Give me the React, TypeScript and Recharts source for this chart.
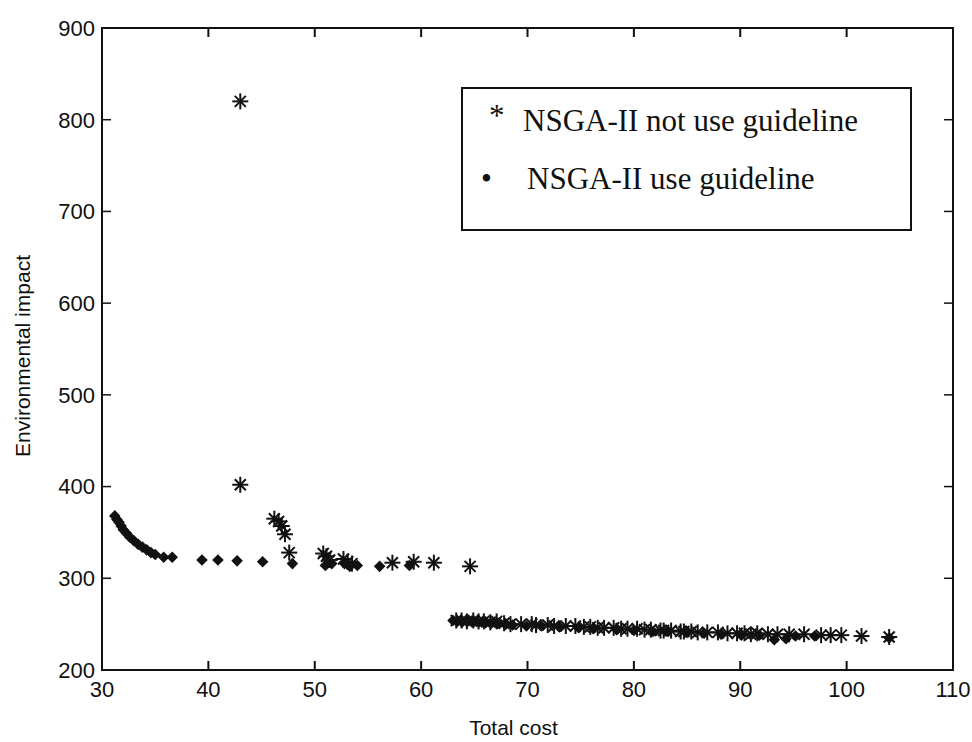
import React from 'react';
import { ScatterChart, Scatter, XAxis, YAxis, ReferenceArea, ReferenceLine } from 'recharts';

// ---- data (Total cost, Environmental impact) ----
const notUseGuideline: [number, number][] = [
  [43.0, 820], [43.0, 402],
  [46.2, 365], [46.6, 362], [46.9, 357], [47.2, 348], [47.6, 328],
  [50.8, 327], [51.1, 324], [51.4, 320], [52.7, 321], [53.1, 318], [53.5, 316],
  [57.3, 317], [59.3, 318], [61.2, 317], [64.6, 313],
  [63.3, 254], [63.8, 254], [64.3, 253], [64.9, 254], [65.4, 253], [65.9, 253],
  [66.5, 252], [67.1, 253], [67.8, 251], [68.4, 250], [69.4, 250], [70.4, 250],
  [70.8, 249], [71.9, 249], [72.5, 248], [73.6, 248], [74.5, 248], [75.3, 247],
  [75.9, 247], [76.6, 246], [77.2, 246], [78.1, 246], [78.8, 245], [79.4, 245],
  [80.3, 245], [81.0, 244], [81.6, 244], [82.5, 243], [82.8, 243], [83.5, 243],
  [84.4, 242], [84.7, 242], [85.4, 242], [86.0, 241], [86.9, 241], [87.9, 241],
  [88.8, 240], [89.7, 240], [90.4, 240], [91.0, 239], [91.6, 240], [92.6, 239],
  [93.5, 239], [94.6, 239], [96.0, 239], [97.6, 238], [98.5, 238], [99.5, 238],
  [101.4, 237], [104.0, 236],
];

const useGuideline: [number, number][] = [
  [31.2, 368], [31.4, 364], [31.6, 361], [31.8, 357], [32.0, 353], [32.3, 349],
  [32.6, 345], [33.0, 341], [33.4, 337], [33.8, 334], [34.2, 331], [34.6, 328],
  [35.0, 326], [35.8, 323], [36.6, 323], [39.4, 320], [40.9, 320], [42.7, 319],
  [45.1, 318], [47.9, 316], [51.0, 314], [51.6, 316], [52.8, 316], [53.3, 313],
  [54.0, 314], [56.1, 313], [58.9, 314],
  [63.0, 254], [63.4, 253], [63.9, 253], [64.3, 254], [64.8, 253], [65.2, 253],
  [65.7, 252], [66.1, 252], [66.6, 251], [67.2, 251], [67.9, 250], [68.6, 249],
  [69.9, 248], [71.3, 248], [73.0, 247], [74.8, 246], [76.2, 245], [78.4, 244],
  [80.0, 243], [81.8, 242], [83.2, 242], [85.0, 241], [86.6, 240], [88.2, 239],
  [90.1, 238], [91.8, 238], [93.2, 233], [94.3, 234], [95.2, 237], [97.0, 237],
  [104.0, 235],
];

const xTicks = [30, 40, 50, 60, 70, 80, 90, 100, 110];
const yTicks = [200, 300, 400, 500, 600, 700, 800, 900];
const seriesNames = ['NSGA-II not use guideline', 'NSGA-II use guideline'];

const X_DOMAIN: [number, number] = [30, 110];
const Y_DOMAIN: [number, number] = [200, 900];
const X_TICK_LEN = 0.85;

const toPoints = (arr: [number, number][]) => arr.map(([x, y]) => ({ x, y }));

const INK = '#111';
const FONT = '"Liberation Sans", Arial, sans-serif';

const Asterisk = (props: any) => {
  const { cx, cy } = props;
  if (cx == null || cy == null) return null;
  return (
    <g stroke={INK} strokeWidth={2}>
      <line x1={cx - 8} y1={cy} x2={cx + 8} y2={cy} />
      <line x1={cx} y1={cy - 8} x2={cx} y2={cy + 8} />
      <line x1={cx - 5.5} y1={cy - 5.5} x2={cx + 5.5} y2={cy + 5.5} />
      <line x1={cx - 5.5} y1={cy + 5.5} x2={cx + 5.5} y2={cy - 5.5} />
    </g>
  );
};

const Diamond = (props: any) => {
  const { cx, cy } = props;
  if (cx == null || cy == null) return null;
  const r = 5.8;
  return <path d={`M${cx},${cy - r}L${cx + r},${cy}L${cx},${cy + r}L${cx - r},${cy}Z`} fill={INK} />;
};

const BottomTick = (props: any) => {
  const { x, y, payload } = props;
  return (
    <text x={x} y={y} dy="0.78em" textAnchor="middle" style={{ fontFamily: FONT, fontSize: 22, fill: INK }}>
      {payload.value}
    </text>
  );
};

const LeftTick = (props: any) => {
  const { x, y, payload } = props;
  return (
    <text x={x} y={y} dy="0.36em" textAnchor="end" style={{ fontFamily: FONT, fontSize: 22, fill: INK }}>
      {payload.value}
    </text>
  );
};

// full-height vertical reference line whose dash pattern leaves only the two inward ends visible
const EdgeTickLine = (props: any) => {
  const { x1, y1, x2, y2 } = props;
  if (x1 == null || y1 == null) return null;
  const top = Math.min(y1, y2);
  const bottom = Math.max(y1, y2);
  return (
    <g>
      <rect x={x1 - 1} y={bottom - 9} width={2} height={9} fill={INK} />
      <rect x={x2 - 1} y={top} width={2} height={9} fill={INK} />
    </g>
  );
};

const LegendBox = () => (
  <div
    style={{
      position: 'absolute',
      left: 461,
      top: 87,
      width: 451,
      height: 144,
      border: '2px solid #111',
      background: '#fff',
      fontFamily: '"Liberation Serif", "Times New Roman", serif',
      fontSize: 31,
      lineHeight: '34px',
      color: INK,
      boxSizing: 'border-box',
    }}
  >
    <div style={{ position: 'absolute', left: 26, top: 15, whiteSpace: 'nowrap' }}>
      <span style={{ display: 'inline-block', width: 34, position: 'relative', top: -5 }}>*</span>
      {seriesNames[0]}
    </div>
    <div style={{ position: 'absolute', left: 18, top: 73, whiteSpace: 'nowrap' }}>
      <span style={{ display: 'inline-block', width: 46 }}>•</span>
      {seriesNames[1]}
    </div>
  </div>
);

const YLabel = (props: any) => {
  const vb = props.viewBox || {};
  const cx = 22;
  const cy = vb.y + vb.height / 2 + 7;
  return (
    <text
      x={cx}
      y={cy}
      transform={`rotate(-90 ${cx} ${cy})`}
      textAnchor="middle"
      dominantBaseline="central"
      style={{ fontFamily: FONT, fontSize: 21, fill: INK }}
    >
      Environmental impact
    </text>
  );
};

const XLabel = (props: any) => {
  const vb = props.viewBox || {};
  const cx = vb.x + vb.width / 2 - 14;
  const cy = vb.y + 57;
  return (
    <text
      x={cx}
      y={cy}
      textAnchor="middle"
      dominantBaseline="central"
      style={{ fontFamily: FONT, fontSize: 21, fill: INK }}
    >
      Total cost
    </text>
  );
};

export default function App() {
  const innerX = xTicks.slice(1, -1);
  const innerY = yTicks.slice(1, -1);
  return (
    <div style={{ position: 'absolute', left: 0, top: 0, width: 972, height: 742, background: '#fff' }}>
      <ScatterChart width={972} height={742} margin={{ top: 28, right: 19, bottom: 2, left: 0 }}>
        <XAxis
          dataKey="x"
          type="number"
          domain={X_DOMAIN}
          ticks={xTicks}
          allowDataOverflow
          height={70}
          tickSize={0}
          tickMargin={10}
          tickLine={false}
          tick={<BottomTick />}
          axisLine={{ stroke: INK, strokeWidth: 2 }}
          label={<XLabel />}
        />
        <YAxis
          dataKey="y"
          type="number"
          domain={Y_DOMAIN}
          ticks={yTicks}
          allowDataOverflow
          width={102}
          tickSize={0}
          tickMargin={7}
          tickLine={false}
          tick={<LeftTick />}
          axisLine={{ stroke: INK, strokeWidth: 2 }}
          label={<YLabel />}
        />
        <ReferenceArea
          x1={X_DOMAIN[0]}
          x2={X_DOMAIN[1]}
          y1={Y_DOMAIN[0]}
          y2={Y_DOMAIN[1]}
          fill="none"
          fillOpacity={0}
          stroke={INK}
          strokeWidth={2}
          ifOverflow="visible"
        />
        {innerX.map((t) => (
          <ReferenceLine key={`xv${t}`} x={t} shape={<EdgeTickLine />} ifOverflow="visible" />
        ))}
        {innerY.map((t) => (
          <ReferenceLine
            key={`yl${t}`}
            segment={[{ x: X_DOMAIN[0], y: t }, { x: X_DOMAIN[0] + X_TICK_LEN, y: t }]}
            stroke={INK}
            strokeWidth={1.5}
            ifOverflow="visible"
          />
        ))}
        {innerY.map((t) => (
          <ReferenceLine
            key={`yr${t}`}
            segment={[{ x: X_DOMAIN[1], y: t }, { x: X_DOMAIN[1] - X_TICK_LEN, y: t }]}
            stroke={INK}
            strokeWidth={1.5}
            ifOverflow="visible"
          />
        ))}
        <Scatter
          name={seriesNames[1]}
          data={toPoints(useGuideline)}
          shape={<Diamond />}
          isAnimationActive={false}
        />
        <Scatter
          name={seriesNames[0]}
          data={toPoints(notUseGuideline)}
          shape={<Asterisk />}
          isAnimationActive={false}
        />
      </ScatterChart>
      <LegendBox />
    </div>
  );
}
